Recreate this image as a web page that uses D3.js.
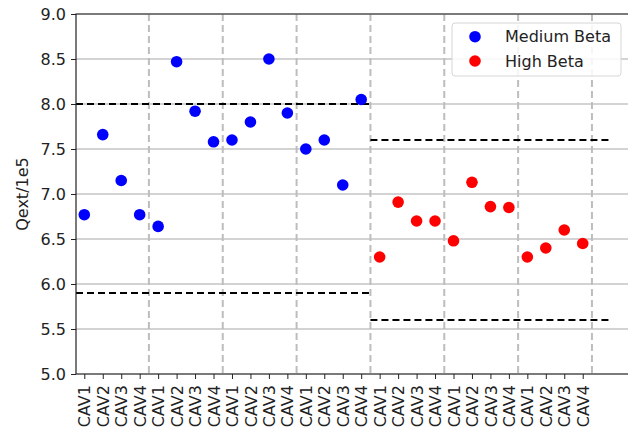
<!DOCTYPE html>
<meta charset="utf-8">
<style>
  body { margin: 0; background: #fff; }
  text { font-family: "DejaVu Sans", sans-serif; }
</style>
<svg width="628" height="430"></svg>
<script src="https://d3js.org/d3.v7.min.js"></script>
<script>
var cavLabels = ["CAV1", "CAV2", "CAV3", "CAV4"]
var groupCount = 7
var mediumBeta = [6.77, 7.66, 7.15, 6.77, 6.64, 8.47, 7.92, 7.58,
                  7.60, 7.80, 8.50, 7.90, 7.50, 7.60, 7.10, 8.05]
var highBeta = [6.30, 6.91, 6.70, 6.70, 6.48, 7.13, 6.86, 6.85,
                6.30, 6.40, 6.60, 6.45]
var mediumLimits = [8.0, 5.9]
var highLimits = [7.6, 5.6]
var yTicks = [5.0, 5.5, 6.0, 6.5, 7.0, 7.5, 8.0, 8.5, 9.0]

var svg = d3.select("svg")
var plotLeft = 76, plotTop = 14, plotBottom = 374, plotRight = 640

var x = d3.scaleLinear().domain([0, 27]).range([84.3, 84.3 + 27 * 18.46])
var y = d3.scaleLinear().domain([5, 9]).range([plotBottom, plotTop])
var xMin = x.invert(plotLeft)

var ticks = d3.range(groupCount * 4)

// horizontal grid
svg.append("g").selectAll("line").data(yTicks).enter().append("line")
  .attr("x1", plotLeft).attr("x2", plotRight)
  .attr("y1", function (d) { return y(d) }).attr("y2", function (d) { return y(d) })
  .attr("stroke", "#c4c4c4").attr("stroke-width", 1.5)

// group separators
svg.append("g").selectAll("line").data(d3.range(groupCount)).enter().append("line")
  .attr("x1", function (g) { return x(g * 4 + 3.5) })
  .attr("x2", function (g) { return x(g * 4 + 3.5) })
  .attr("y1", plotTop).attr("y2", plotBottom)
  .attr("stroke", "#bdbdbd").attr("stroke-width", 2)
  .attr("stroke-dasharray", "7,4")

// limit lines
var limits = mediumLimits.map(function (v) { return { v: v, a: xMin, b: 15.5 } })
  .concat(highLimits.map(function (v) { return { v: v, a: 15.5, b: 28.4 } }))
svg.append("g").selectAll("line").data(limits).enter().append("line")
  .attr("x1", function (d) { return x(d.a) }).attr("x2", function (d) { return x(d.b) })
  .attr("y1", function (d) { return y(d.v) }).attr("y2", function (d) { return y(d.v) })
  .attr("stroke", "#000").attr("stroke-width", 2)
  .attr("stroke-dasharray", "7,4")

// points
svg.append("g").selectAll("circle").data(mediumBeta).enter().append("circle")
  .attr("cx", function (d, i) { return x(i) })
  .attr("cy", function (d) { return y(d) })
  .attr("r", 5.8).attr("fill", "#0000ff")
svg.append("g").selectAll("circle").data(highBeta).enter().append("circle")
  .attr("cx", function (d, i) { return x(i + 16) })
  .attr("cy", function (d) { return y(d) })
  .attr("r", 5.8).attr("fill", "#ff0000")

// axes
var yAxis = svg.append("g").attr("transform", "translate(" + plotLeft + ",0)")
  .call(d3.axisLeft(y).tickValues(yTicks).tickFormat(d3.format(".1f")).tickSize(5).tickPadding(5))
yAxis.select(".domain").remove()
yAxis.selectAll("text").attr("font-size", 16).attr("fill", "#222")
  .attr("font-family", "DejaVu Sans")

var xAxis = svg.append("g").attr("transform", "translate(0," + plotBottom + ")")
  .call(d3.axisBottom(x).tickValues(ticks).tickFormat(function (d) { return cavLabels[d % 4] }).tickSize(5))
xAxis.select(".domain").remove()
xAxis.selectAll("text")
  .attr("font-size", 16).attr("fill", "#222").attr("font-family", "DejaVu Sans")
  .attr("transform", "rotate(-90)")
  .attr("x", -11).attr("y", 0).attr("dy", "0.35em")
  .style("text-anchor", "end")
svg.selectAll(".tick line").attr("stroke", "#222")

// spines
svg.append("path")
  .attr("d", "M" + plotRight + "," + plotTop + "H" + plotLeft + "V" + plotBottom + "H" + plotRight)
  .attr("fill", "none").attr("stroke", "#222").attr("stroke-width", 1.2)

// y label
svg.append("text")
  .attr("transform", "translate(22," + ((plotTop + plotBottom) / 2) + ") rotate(-90)")
  .attr("text-anchor", "middle").attr("dy", "0.35em")
  .attr("font-size", 16).attr("fill", "#222")
  .text("Qext/1e5")

// legend
var legend = svg.append("g")
legend.append("rect")
  .attr("x", 452).attr("y", 23).attr("width", 169).attr("height", 53).attr("rx", 3)
  .attr("fill", "#fff").attr("fill-opacity", 0.85)
  .attr("stroke", "#d6d6d6").attr("stroke-width", 1)
var legendItems = [{ label: "Medium Beta", color: "#0000ff" }, { label: "High Beta", color: "#ff0000" }]
legend.selectAll("circle").data(legendItems).enter().append("circle")
  .attr("cx", 475).attr("cy", function (d, i) { return 36.7 + i * 24.3 })
  .attr("r", 5.8).attr("fill", function (d) { return d.color })
legend.selectAll("text").data(legendItems).enter().append("text")
  .attr("x", 505).attr("y", function (d, i) { return 36.7 + i * 24.3 })
  .attr("dy", "0.35em").attr("font-size", 16).attr("fill", "#222")
  .text(function (d) { return d.label })
</script>
